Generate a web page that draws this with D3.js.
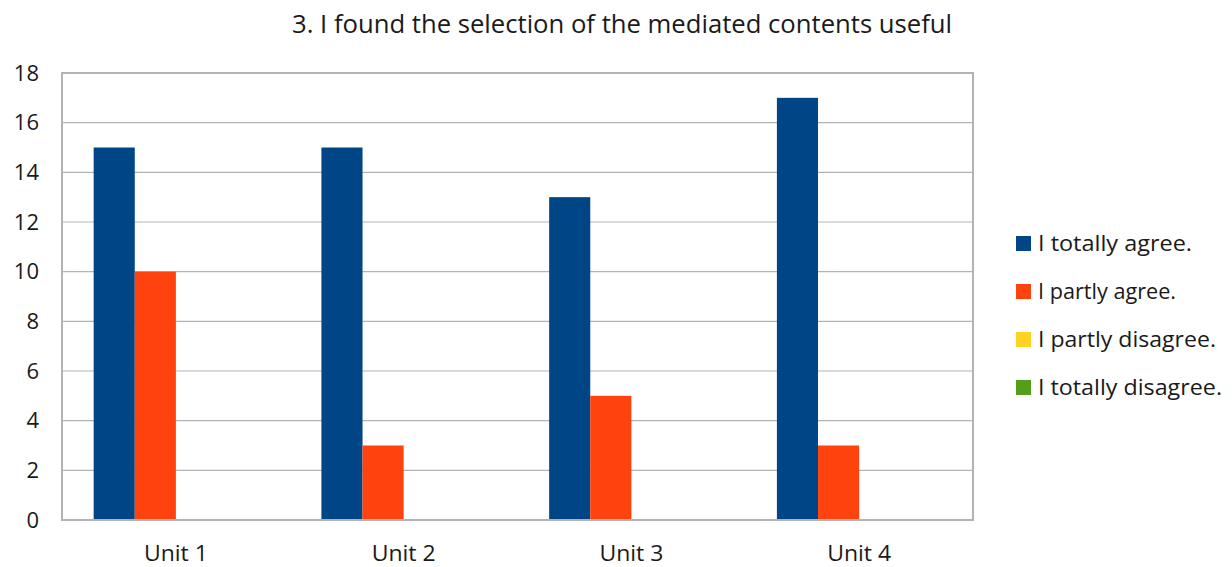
<!DOCTYPE html>
<html>
<head>
<meta charset="utf-8">
<script src="https://cdn.jsdelivr.net/npm/d3@7"></script>
<style>
  html, body { margin: 0; padding: 0; background: #fff; }
  svg { display: block; font-family: "Open Sans", "Noto Sans", sans-serif; }
</style>
</head>
<body>
<svg id="chart" width="1232" height="567"></svg>
<script>
// Survey answers per unit
const title = "3. I found the selection of the mediated contents useful";
const categories = ["Unit 1", "Unit 2", "Unit 3", "Unit 4"];
const seriesNames = ["I totally agree.", "I partly agree.", "I partly disagree.", "I totally disagree."];
const totallyAgree = [15, 15, 13, 17];
const partlyAgree = [10, 3, 5, 3];
const partlyDisagree = [0, 0, 0, 0];
const totallyDisagree = [0, 0, 0, 0];
const yTicks = [0, 2, 4, 6, 8, 10, 12, 14, 16, 18];
const colors = ["#004586", "#ff420e", "#ffd320", "#579d1c"];

const series = [totallyAgree, partlyAgree, partlyDisagree, totallyDisagree];

const svg = d3.select("#chart");
const plot = { left: 62, right: 973, top: 73, bottom: 520 };

const x0 = d3.scaleBand().domain(categories).range([plot.left, plot.right]).padding(0);
const inset = x0.bandwidth() * 0.139;
const x1 = d3.scaleBand().domain(seriesNames).range([inset, x0.bandwidth() - inset]).padding(0);
const y = d3.scaleLinear().domain([0, 18]).range([plot.bottom, plot.top]);

// Gridlines
svg.append("g")
  .selectAll("line")
  .data(yTicks.filter(t => t > 0 && t < 18))
  .join("line")
  .attr("x1", plot.left).attr("x2", plot.right)
  .attr("y1", d => y(d)).attr("y2", d => y(d))
  .attr("stroke", "#b3b3b3").attr("stroke-width", 1.2);

// Bars
const groups = svg.append("g")
  .selectAll("g")
  .data(categories)
  .join("g")
  .attr("transform", d => `translate(${x0(d)},0)`);

groups.selectAll("rect")
  .data((c, i) => series.map((s, k) => ({ name: seriesNames[k], value: s[i], color: colors[k] })))
  .join("rect")
  .attr("x", d => x1(d.name))
  .attr("width", x1.bandwidth())
  .attr("y", d => y(d.value))
  .attr("height", d => y(0) - y(d.value))
  .attr("fill", d => d.color);

// Plot frame
svg.append("rect")
  .attr("x", plot.left).attr("y", plot.top)
  .attr("width", plot.right - plot.left).attr("height", plot.bottom - plot.top)
  .attr("fill", "none").attr("stroke", "#b3b3b3").attr("stroke-width", 2);

// Y axis labels
const yAxis = d3.axisLeft(y).tickValues(yTicks).tickSize(0).tickPadding(23);
svg.append("g")
  .attr("transform", `translate(${plot.left},0)`)
  .call(yAxis)
  .call(g => g.select(".domain").remove())
  .call(g => g.selectAll("text")
    .attr("font-family", "'Open Sans', sans-serif")
    .attr("font-size", 22)
    .attr("fill", "#1a1a1a"));

// X axis labels
const xAxis = d3.axisBottom(x0).tickSize(0).tickPadding(25);
svg.append("g")
  .attr("transform", `translate(0,${plot.bottom})`)
  .call(xAxis)
  .call(g => g.select(".domain").remove())
  .call(g => g.selectAll("text")
    .attr("font-family", "'Open Sans', sans-serif")
    .attr("font-size", 22)
    .attr("fill", "#1a1a1a")
    .attr("textLength", 64)
    .attr("lengthAdjust", "spacingAndGlyphs"));

// Title
svg.append("text")
  .attr("x", 622).attr("y", 33)
  .attr("text-anchor", "middle")
  .attr("font-size", 25)
  .attr("fill", "#1a1a1a")
  .attr("textLength", 660)
  .attr("lengthAdjust", "spacingAndGlyphs")
  .text(title);

// Legend
const legendWidths = [154, 138, 178, 184];
const legend = svg.append("g")
  .selectAll("g")
  .data(seriesNames)
  .join("g")
  .attr("transform", (d, i) => `translate(1016,${244 + i * 48})`);

legend.append("rect")
  .attr("x", 0).attr("y", -8)
  .attr("width", 15).attr("height", 15)
  .attr("fill", (d, i) => colors[i]);

legend.append("text")
  .attr("x", 22).attr("y", 7)
  .attr("font-size", 22)
  .attr("fill", "#1a1a1a")
  .attr("textLength", (d, i) => legendWidths[i])
  .attr("lengthAdjust", "spacingAndGlyphs")
  .text(d => d);
</script>
</body>
</html>
